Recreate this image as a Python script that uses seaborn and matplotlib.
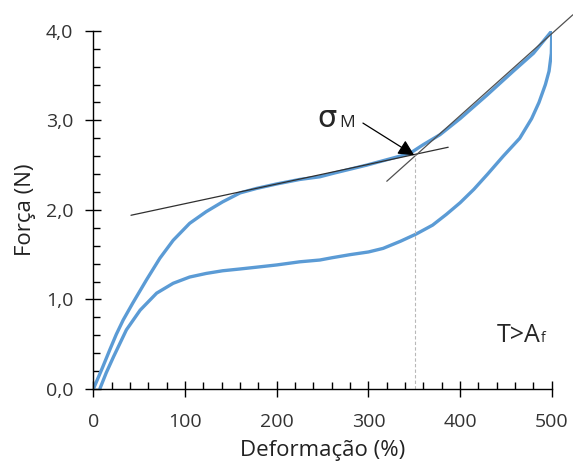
import numpy as np
import pandas as pd
import seaborn as sns
import matplotlib.pyplot as plt
from matplotlib.ticker import FuncFormatter, MultipleLocator

# loading branch (upper curve)
load_x = [0, 10, 18, 25, 32.5, 43, 58, 72.5, 87, 105, 123, 141, 160, 178, 200, 225, 247,
          262, 298, 327, 345, 360, 378, 400, 429, 458, 480, 500]
load_y = [0.0, 0.24, 0.44, 0.61, 0.77, 0.96, 1.22, 1.46, 1.66, 1.85, 1.98, 2.09, 2.19, 2.24,
          2.29, 2.34, 2.37, 2.41, 2.50, 2.58, 2.63, 2.73, 2.84, 3.02, 3.28, 3.55, 3.75, 4.0]

# unloading branch (lower curve)
unload_x = [500, 499.5, 497, 493, 486, 478, 465, 447, 430, 415, 400, 385, 370, 352, 335,
            316, 300, 280, 260, 247, 225, 200, 178, 160, 141, 123, 105, 87, 69, 51, 36,
            22, 14, 7]
unload_y = [4.0, 3.75, 3.55, 3.40, 3.20, 3.02, 2.80, 2.60, 2.40, 2.23, 2.08, 1.95, 1.83,
            1.73, 1.65, 1.57, 1.53, 1.50, 1.465, 1.44, 1.42, 1.385, 1.36, 1.34, 1.32, 1.29,
            1.25, 1.18, 1.07, 0.88, 0.66, 0.36, 0.18, 0.0]

# tangent lines used to find sigma_M
tan1_x = [41, 387]
tan1_y = [1.94, 2.70]
tan2_x = [320, 523]
tan2_y = [2.32, 4.18]
sigma_m_x = 351
sigma_m_y = 2.61

sns.set_style('white')
plt.rcParams['font.family'] = ['Open Sans', 'DejaVu Sans']

fig = plt.figure(figsize=(5.73, 4.68), dpi=100)
ax = fig.add_axes([0.163, 0.169, 0.800, 0.765])

blue = '#5b9bd5'
sns.lineplot(x=load_x, y=load_y, sort=False, color=blue, lw=2.4, ax=ax)
sns.lineplot(x=unload_x, y=unload_y, sort=False, color=blue, lw=2.4, ax=ax)

# tangents
ax.plot(tan1_x, tan1_y, color='#303030', lw=0.9, clip_on=False)
ax.plot(tan2_x, tan2_y, color='#505050', lw=0.9, clip_on=False)

# vertical dashed marker at sigma_M
ax.plot([sigma_m_x, sigma_m_x], [0, sigma_m_y], color='#b8b8b8', lw=0.8, ls=(0, (3, 2)))

# sigma_M annotation
ax.annotate('', xy=(sigma_m_x - 1, sigma_m_y), xytext=(294, 2.97),
            arrowprops=dict(arrowstyle='-|>,head_length=0.6,head_width=0.3', color='black',
                            lw=0.9, mutation_scale=16, shrinkA=0, shrinkB=0))
ax.text(255, 2.93, 'σ', fontsize=22, family='DejaVu Sans', ha='center', va='baseline')
ax.text(268, 2.93, 'M', fontsize=12.5, ha='left', va='baseline')

ax.text(440, 0.525, 'T>A', fontsize=18, ha='left', va='baseline')
ax.text(488, 0.525, 'f', fontsize=10, ha='left', va='baseline')

ax.set_xlim(0, 500)
ax.set_ylim(0, 4.0)
ax.xaxis.set_major_locator(MultipleLocator(100))
ax.xaxis.set_minor_locator(MultipleLocator(20))
ax.yaxis.set_major_locator(MultipleLocator(1.0))
ax.yaxis.set_minor_locator(MultipleLocator(0.2))
ax.yaxis.set_major_formatter(FuncFormatter(lambda v, p: f'{v:.1f}'.replace('.', ',')))

for side in ['top', 'right']:
    ax.spines[side].set_visible(False)
for side in ['left', 'bottom']:
    ax.spines[side].set_color('black')
    ax.spines[side].set_linewidth(1.0)

ax.tick_params(which='both', bottom=True, left=True)
ax.tick_params(which='major', direction='inout', length=11, width=1.0, color='black',
               labelsize=14, labelcolor='#333333')
ax.tick_params(axis='x', which='major', pad=12)
ax.tick_params(axis='y', which='major', pad=9)
ax.tick_params(which='minor', direction='in', length=5, width=1.0, color='black')

ax.set_xlabel('Deformação (%)', fontsize=16, color='#222222', labelpad=6)
ax.set_ylabel('Força (N)', fontsize=16, color='#222222', labelpad=7)

fig.savefig('out.png', dpi=100)
